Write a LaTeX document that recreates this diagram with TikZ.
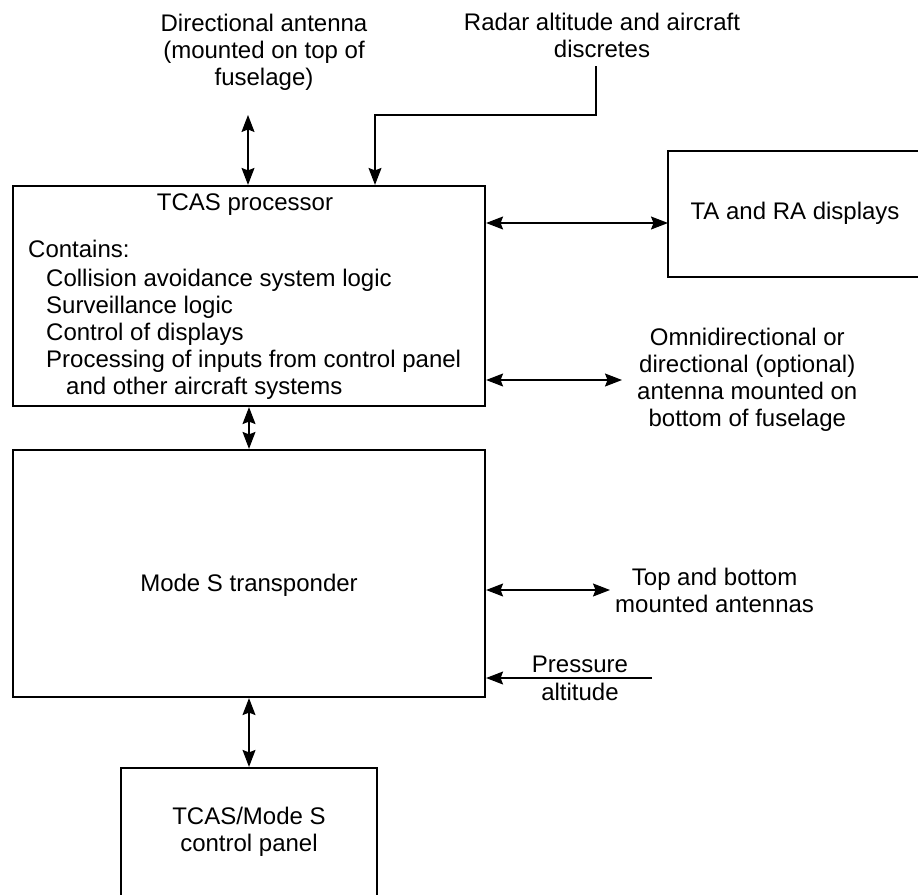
\documentclass[tikz,border=0pt]{standalone}
\usepackage{fontspec}
\setmainfont{Liberation Sans}
\usetikzlibrary{arrows.meta}
\tikzset{>={Stealth[length=17pt,width=13pt,inset=2.5pt]}}

\begin{document}
\begin{tikzpicture}[x=1pt,y=-1pt,font=\fontsize{24}{27}\selectfont]
      \tikzstyle{unit}=[draw,line width=2.2pt,inner sep=0pt];
      \tikzstyle{txt}=[inner sep=0pt,align=center];
      \tikzstyle{link}=[line width=1.2pt];
      \useasboundingbox (0,0) rectangle (918,894);

      % boxes
      \node[unit,minimum width=472pt,minimum height=220pt] (tcas) at (249,296) {};
      \node[unit,minimum width=472pt,minimum height=247pt] (modes) at (249,573.5) {};
      \node[unit,minimum width=262pt,minimum height=126pt] (disp) at (799,214) {};
      \node[unit,minimum width=256pt,minimum height=142pt] (panel) at (249,839) {};

      % texts in the boxes
      \node[txt] (tcastitle) at (245,205) {TCAS processor};
      \node[txt,anchor=north west,align=left] (tcaslist) at (28,240) {Contains:\\[2pt]
        \hspace*{18pt}Collision avoidance system logic\\
        \hspace*{18pt}Surveillance logic\\
        \hspace*{18pt}Control of displays\\
        \hspace*{18pt}Processing of inputs from control panel\\
        \hspace*{38pt}and other aircraft systems};
      \node[txt] (dispname) at (795,213) {TA and RA displays};
      \node[txt] (modesname) at (249,585) {Mode S transponder};
      \node[txt] (panelname) at (249,832) {TCAS/Mode S\\control panel};

      % outside texts
      \node[txt,anchor=north] (dirant) at (264,14) {Directional antenna\\(mounted on top of\\fuselage)};
      \node[txt,anchor=north] (radar) at (602,13) {Radar altitude and aircraft\\discretes};
      \node[txt,anchor=west,inner xsep=15pt] (omni) at (622,380) {Omnidirectional or\\directional (optional)\\antenna mounted on\\bottom of fuselage};
      \node[txt,anchor=west,inner xsep=5pt] (tops) at (610,590) {Top and bottom\\mounted antennas};
      \node[txt] (pres) at (580,678) {Pressure\\[1pt]altitude};

      % connectors
      \coordinate (dirend) at (248,115);
      \coordinate (radarend) at (596,66);
      \coordinate (radarbend) at (375,115);
      \coordinate (dispin) at (668,223);
      \coordinate (presin) at (652,678);
      \draw[link,<->] (dirend) -- (dirend |- tcas.north);
      \draw[link,->] (radarend) |- (radarbend) -- (radarbend |- tcas.north);
      \draw[link,<->] (dispin -| tcas.east) -- (dispin);
      \draw[link,<->] (tcas.east |- omni.west) -- (omni.west);
      \draw[link,<->] (tcas.south) -- (modes.north);
      \draw[link,<->] (modes.east |- tops.west) -- (tops.west);
      \draw[link,->] (presin) -- (presin -| modes.east);
      \draw[link,<->] (modes.south -| panel.north) -- (panel.north);
    \end{tikzpicture}
\end{document}
